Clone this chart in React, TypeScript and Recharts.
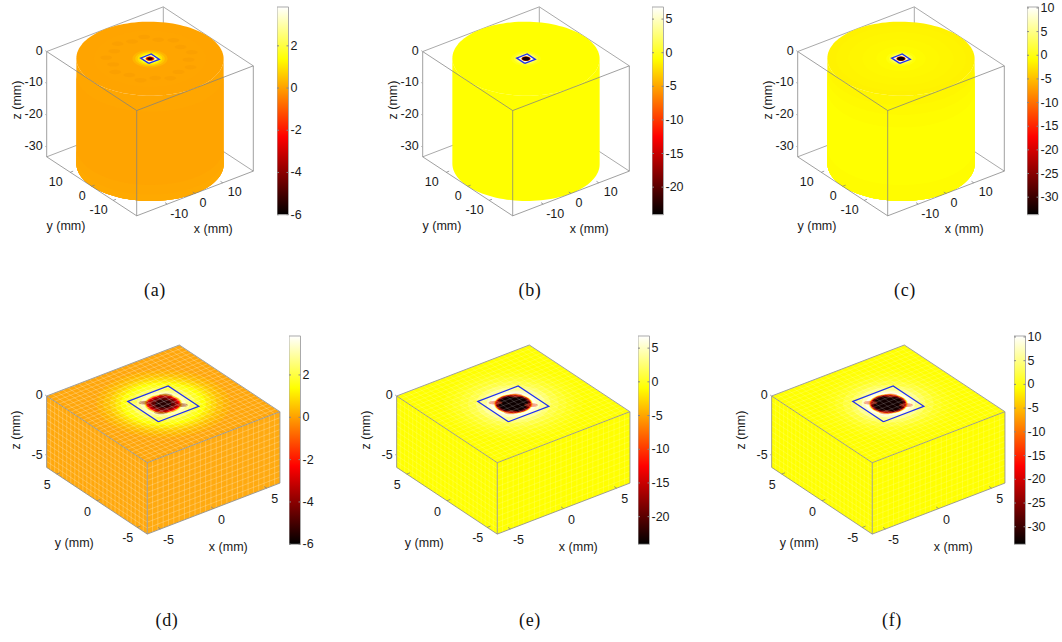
import { Area, ComposedChart, Line, ReferenceArea, Scatter, XAxis, YAxis } from "recharts";

// colour scale ranges and ticks
const RANGE_A = [-6, 3.84];
const RANGE_B = [-24.1, 6.8];
const RANGE_C = [-33.7, 10.2];
const TICKS_A = [-6, -4, -2, 0, 2];
const TICKS_B = [-20, -15, -10, -5, 0, 5];
const TICKS_C = [-30, -25, -20, -15, -10, -5, 0, 5, 10];

// [radius mm, value] rings of the surface field around the pad, outermost first
const RINGS_A = [[5, 0.3], [4.2, 0.6], [3.5, 1], [2.9, 1.5], [2.4, 2.2], [1.9, 3.2], [1.55, 3.4], [1.35, 1.5], [1.22, -1], [1.05, -3.2], [0.7, -5.5]];
const RINGS_B = [[4.2, -0.4], [3.4, 0.6], [2.8, 2], [2.3, 3.6], [1.9, 5.5], [1.5, 6.5], [1.35, -5], [1.2, -18], [1, -23]];
const RINGS_C = [[4.2, -0.4], [3.4, 1], [2.8, 3], [2.3, 5.5], [1.9, 8], [1.5, 10], [1.35, -8], [1.2, -25], [1, -33]];
const RINGS_D = [[5, 0.25], [4.5, 0.45], [4, 0.75], [3.6, 1.05], [3.2, 1.4], [2.8, 1.75], [2.4, 2.2], [2, 2.7], [1.7, 3.2], [1.5, 3.1], [1.42, 2], [1.36, 0.6], [1.3, -1], [1.22, -2.4], [1.1, -3.6], [0.9, -4.6], [0.6, -5.4]];
const RINGS_E = [[5.2, -0.6], [4.6, -0.2], [4, 0.4], [3.4, 1.2], [2.8, 2.4], [2.4, 3.6], [2, 5], [1.7, 6.2], [1.48, 4], [1.42, -3], [1.36, -13], [1.28, -20], [1.1, -23.5]];
const RINGS_F = [[5.2, -0.5], [4.6, -0.1], [4, 0.6], [3.4, 1.8], [2.8, 3.4], [2.4, 5.2], [2, 7.5], [1.7, 9.6], [1.48, 5], [1.42, -4], [1.36, -18], [1.28, -28], [1.1, -32.5]];

// [from z, colour] bands on the cylinder wall, each one running down to the base
const BANDS_A = [[0, "#ffa600"], [-5, "#ffa400"], [-28, "#ffa700"], [-31, "#ffa900"]];
const BANDS_B = [[0, "#ffff00"]];
const BANDS_C = [[0, "#fff600"], [-3, "#fff900"], [-6, "#fffc00"], [-10, "#ffff00"], [-28, "#fffc00"]];

// [radius mm, colour] discs of the cylinder lid
const LID_A = [[21, "#ffa400"], [16, "#ffa500"]];
const LID_B = [[21, "#ffff00"]];
const LID_C = [[21, "#fff200"], [18.5, "#fff400"], [15, "#fff600"], [11, "#fff800"], [7, "#fffb00"]];

// darker spots on the lid of (a)
const SPOT_ANGLES = [0, 20, 40, 60, 80, 100, 120, 140, 160, 180, 200, 220, 240, 260, 280, 300, 320, 340];
const SPOT_RADIUS = [11, 12.5];
// red tips of the field where it runs into the pad corners, (x, y) in mm
const WINGS = [[-0.95, 0.95], [0.95, -0.95], [0.9, 0.9], [-0.9, -0.9]];
const MESH_CELLS = [25, 12];

const PAD = 1.9;
const TOP = { R: 21, zMin: -33, hx: [58.3, -22.35], hy: [-45, -29.5], zs: 3.19, cx: 150, cy: 58.7, ticks: [-10, 0, 10], zTicks: [0, -10, -20, -30], wide: 5, xy: [8, 9.5], yl: [66, 225.7], xl: [213.3, 229], zl: [17, 100] };
const BOT = { R: 6.25, zMin: -6, hx: [66.35, -25.5], hy: [-50.3, -33.35], zs: 11.9, cx: 163.3, cy: 403.85, ticks: [-5, 0, 5], zTicks: [0, -5], wide: 0, xy: [8, 11], yl: [74.3, 542.7], xl: [228.3, 546.7], zl: [16, 430] };

const PANELS = [
  { name: "(a)", g: TOP, dx: 0, range: RANGE_A, ticks: TICKS_A, rings: RINGS_A, bands: BANDS_A, lid: LID_A, bar: 277, cap: [155, 290] },
  { name: "(b)", g: TOP, dx: 376, range: RANGE_B, ticks: TICKS_B, rings: RINGS_B, bands: BANDS_B, lid: LID_B, bar: 651.7, cap: [530, 290] },
  { name: "(c)", g: TOP, dx: 751, range: RANGE_C, ticks: TICKS_C, rings: RINGS_C, bands: BANDS_C, lid: LID_C, bar: 1027.3, cap: [905, 290] },
  { name: "(d)", g: BOT, dx: 0, range: RANGE_A, ticks: TICKS_A, rings: RINGS_D, face: ["#ffa60a", "#ffa80c", "#ffaa10"], mesh: 0.3, wing: "#8a1000", bar: 289.3, cap: [167, 620] },
  { name: "(e)", g: BOT, dx: 349.7, range: RANGE_B, ticks: TICKS_B, rings: RINGS_E, face: ["#ffff00", "#ffff00", "#ffff00"], mesh: 0.2, wing: "#e83010", bar: 638.3, cap: [530, 620] },
  { name: "(f)", g: BOT, dx: 725, range: RANGE_C, ticks: TICKS_C, rings: RINGS_F, face: ["#ffff00", "#ffff00", "#ffff00"], mesh: 0.2, wing: "#e83010", bar: 1014.3, cap: [892, 620] },
];

const FONT = "'Liberation Sans', Arial, sans-serif";
const W = 300;
const H = 642;

// same colour map as the bars: black - red - yellow - white
function hot(v: number, range: number[]) {
  const f = Math.max(0, Math.min(1, (v - range[0]) / (range[1] - range[0])));
  const r = Math.round(255 * Math.min(1, f / 0.375));
  const g = Math.round(255 * Math.max(0, Math.min(1, (f - 0.375) / 0.375)));
  const b = Math.round(255 * Math.max(0, (f - 0.75) / 0.25));
  return `rgb(${r},${g},${b})`;
}

function project(g: any, X: number, Y: number, Z: number) {
  return {
    x: g.cx + (X / g.R) * g.hx[0] + (Y / g.R) * g.hy[0],
    y: g.cy + (X / g.R) * g.hx[1] + (Y / g.R) * g.hy[1] - Z * g.zs,
  };
}

// projected circle, written as lower and upper edge per screen x
function circleEdge(g: any, r: number, u: number) {
  const ax = g.hx[0] / g.R, bx = g.hy[0] / g.R, ay = g.hx[1] / g.R, by = g.hy[1] / g.R;
  const su = Math.hypot(ax, bx);
  const mid = (u * (ax * ay + bx * by)) / (su * su);
  const s = Math.sqrt(Math.max(0, r * r - (u * u) / (su * su)));
  const k = (by * ax - ay * bx) / su;
  return [mid - Math.abs(s * k), mid + Math.abs(s * k)];
}

function circleXs(g: any, r: number) {
  const su = Math.hypot(g.hx[0], g.hy[0]) / g.R;
  return Array.from({ length: 61 }, (_, i) => -r * su * Math.cos((i * Math.PI) / 60));
}

function disc(g: any, r: number, z: number) {
  return circleXs(g, r).map((u) => {
    const e = circleEdge(g, r, u);
    const c = g.cy - z * g.zs;
    return { x: g.cx + u, range: [c + e[0], c + e[1]] };
  });
}

function wall(g: any, z1: number, z2: number) {
  return circleXs(g, g.R).map((u) => {
    const e = circleEdge(g, g.R, u)[1];
    return { x: g.cx + u, range: [g.cy - z1 * g.zs + e, g.cy - z2 * g.zs + e] };
  });
}

function segment(g: any, a: number[], b: number[]) {
  return [project(g, a[0], a[1], a[2]), project(g, b[0], b[1], b[2])];
}

function joinLines(lines: any[][]) {
  const out: any[] = [];
  lines.forEach((l) => {
    out.push(...l);
    out.push({ x: l[l.length - 1].x, y: null });
  });
  return out;
}

function quadRows(p: any[], q: any[]) {
  // p, q = top and bottom polyline in screen space, same x range
  const xs = Array.from(new Set([...p, ...q].map((d) => d.x))).sort((a, b) => a - b);
  const at = (l: any[], x: number) => {
    for (let i = 0; i < l.length - 1; i++) {
      if (x >= l[i].x && x <= l[i + 1].x) {
        const w = l[i + 1].x === l[i].x ? 0 : (x - l[i].x) / (l[i + 1].x - l[i].x);
        return l[i].y + w * (l[i + 1].y - l[i].y);
      }
    }
    return l[0].y;
  };
  return xs.map((x) => ({ x, range: [at(p, x), at(q, x)] }));
}

const TextMark = (props: any) => {
  const { cx, cy, payload } = props;
  return (
    <text
      x={cx}
      y={cy}
      textAnchor={payload.anchor || "middle"}
      dominantBaseline="central"
      fontFamily={FONT}
      fontSize={12.5}
      fill="#1a1a1a"
      transform={payload.rotate ? `rotate(-90 ${cx} ${cy})` : undefined}
    >
      {payload.text}
    </text>
  );
};

const SpotMark = (props: any) => <ellipse cx={props.cx} cy={props.cy} rx={6} ry={2.2} fill="#f79c00" opacity={0.45} />;
const WingMark = (props: any) => <ellipse cx={props.cx} cy={props.cy} rx={7} ry={2} fill={props.payload.fill} opacity={0.45} />;

function Scene({ p }: { p: any }) {
  const g = p.g;
  const R = g.R;
  const Z = g.zMin;
  const isBlock = !!p.face;

  const c = (X: number, Y: number, ZZ: number) => project(g, X, Y, ZZ);
  const back = joinLines([
    segment(g, [-R, R, 0], [R, R, 0]),
    segment(g, [R, R, 0], [R, -R, 0]),
    segment(g, [R, R, 0], [R, R, Z]),
    segment(g, [-R, R, Z], [R, R, Z]),
    segment(g, [R, R, Z], [R, -R, Z]),
  ]);
  const front = joinLines([
    segment(g, [-R, -R, 0], [R, -R, 0]),
    segment(g, [-R, -R, 0], [-R, R, 0]),
    segment(g, [-R, -R, 0], [-R, -R, Z]),
    segment(g, [-R, R, 0], [-R, R, Z]),
    segment(g, [R, -R, 0], [R, -R, Z]),
    segment(g, [-R, -R, Z], [R, -R, Z]),
    segment(g, [-R, -R, Z], [-R, R, Z]),
    ...g.ticks.map((t: number) => segment(g, [t, -R, Z], [t, -R + R * 0.05, Z])),
    ...g.ticks.map((t: number) => segment(g, [-R, t, Z], [-R + R * 0.05, t, Z])),
  ]);
  const zTickLines = joinLines(g.zTicks.map((t: number) => segment(g, [-R, R, t], [-R, R + R * 0.03, t])));

  const pad = [c(-PAD, -PAD, 0), c(PAD, -PAD, 0), c(PAD, PAD, 0), c(-PAD, PAD, 0), c(-PAD, -PAD, 0)];

  const labels: any[] = [];
  g.ticks.forEach((t: number) => {
    const a = c(t, -R, Z);
    const b = c(-R, t, Z);
    const wide = String(t).length > 1 ? g.wide : 0;
    labels.push({ x: a.x + g.xy[0] + wide * 0.8, y: a.y + g.xy[1], text: String(t) });
    labels.push({ x: b.x - g.xy[0] - 1.5 - wide, y: b.y + g.xy[1], text: String(t) });
  });
  g.zTicks.forEach((t: number) => {
    const a = c(-R, R, t);
    labels.push({ x: a.x - 4, y: a.y - 1, text: String(t), anchor: "end" });
  });
  labels.push({ x: g.yl[0], y: g.yl[1], text: "y (mm)" });
  labels.push({ x: g.xl[0], y: g.xl[1], text: "x (mm)" });
  labels.push({ x: g.zl[0], y: g.zl[1], text: "z (mm)", rotate: true });

  const step = (2 * R) / MESH_CELLS[0];
  const zStep = -Z / MESH_CELLS[1];
  const meshPos = Array.from({ length: MESH_CELLS[0] + 1 }, (_, i) => -R + i * step);
  const meshZ = Array.from({ length: MESH_CELLS[1] + 1 }, (_, i) => -i * zStep);
  const mesh = isBlock
    ? joinLines([
        ...meshPos.map((t) => segment(g, [t, -R, 0], [t, R, 0])),
        ...meshPos.map((t) => segment(g, [-R, t, 0], [R, t, 0])),
        ...meshPos.map((t) => segment(g, [t, -R, 0], [t, -R, Z])),
        ...meshPos.map((t) => segment(g, [-R, t, 0], [-R, t, Z])),
        ...meshZ.map((z) => segment(g, [-R, -R, z], [R, -R, z])),
        ...meshZ.map((z) => segment(g, [-R, -R, z], [-R, R, z])),
      ])
    : [];

  const spots =
    p.name === "(a)"
      ? SPOT_ANGLES.map((a, i) => {
          const r = SPOT_RADIUS[i % 2];
          return c(r * Math.cos((a * Math.PI) / 180), r * Math.sin((a * Math.PI) / 180), 0);
        })
      : [];
  const wings = isBlock ? WINGS.map((w) => ({ ...c(w[0], w[1], 0), fill: p.wing })) : [];

  const topUpper = [c(-R, R, 0), c(R, R, 0), c(R, -R, 0)];
  const topLower = [c(-R, R, 0), c(-R, -R, 0), c(R, -R, 0)];
  const leftUpper = [c(-R, R, 0), c(-R, -R, 0)];
  const leftLower = [c(-R, R, Z), c(-R, -R, Z)];
  const rightUpper = [c(-R, -R, 0), c(R, -R, 0)];
  const rightLower = [c(-R, -R, Z), c(R, -R, Z)];

  const edge = { type: "linear" as const, dot: false, activeDot: false, isAnimationActive: false, connectNulls: false };
  const fill = { type: "linear" as const, dataKey: "range", stroke: "none", dot: false, activeDot: false, isAnimationActive: false, fillOpacity: 1 };

  return (
    <ComposedChart width={W} height={H} margin={{ top: 0, right: 0, bottom: 0, left: 0 }}>
      <XAxis hide type="number" dataKey="x" domain={[0, W]} allowDataOverflow />
      <YAxis hide type="number" dataKey="y" domain={[0, H]} reversed allowDataOverflow width={0} />

      {!isBlock && <Line {...edge} data={back} dataKey="y" stroke="#aaaaaa" strokeWidth={1} zIndex={50} />}

      {isBlock && <Area {...fill} data={quadRows(leftUpper, leftLower)} fill={p.face[1]} />}
      {isBlock && <Area {...fill} data={quadRows(rightUpper, rightLower)} fill={p.face[2]} />}
      {isBlock && <Area {...fill} data={quadRows(topUpper, topLower)} fill={p.face[0]} />}

      {!isBlock &&
        p.bands.map((b: any, i: number) => <Area key={"b" + i} {...fill} data={wall(g, b[0], Z)} fill={b[1]} />)}
      {!isBlock &&
        p.lid.map((l: any, i: number) => <Area key={"l" + i} {...fill} data={disc(g, l[0], 0)} fill={l[1]} />)}

      {p.rings.map((ring: number[], i: number) => (
        <Area key={"r" + i} {...fill} data={disc(g, ring[0], 0)} fill={hot(ring[1], p.range)} />
      ))}

      {isBlock && <Line {...edge} data={mesh} dataKey="y" stroke="#ffffff" strokeOpacity={p.mesh} strokeWidth={0.8} />}
      <Line {...edge} data={front} dataKey="y" stroke="#808080" strokeOpacity={0.75} strokeWidth={1} />
      {isBlock && <Line {...edge} data={joinLines([segment(g, [-R, R, 0], [R, R, 0]), segment(g, [R, R, 0], [R, -R, 0])])} dataKey="y" stroke="#a0a0a0" strokeWidth={1} />}
      <Line {...edge} data={zTickLines} dataKey="y" stroke="#aaaaaa" strokeWidth={1} />
      <Line {...edge} data={pad} dataKey="y" stroke="#2030f0" strokeWidth={1.3} />

      {spots.length > 0 && <Scatter data={spots} shape={SpotMark} isAnimationActive={false} zIndex={110} />}
      {wings.length > 0 && <Scatter data={wings} shape={WingMark} isAnimationActive={false} zIndex={110} />}
      <Scatter data={labels} shape={TextMark} isAnimationActive={false} />
    </ComposedChart>
  );
}

function BarTick(props: any) {
  const { x, y, payload } = props;
  return (
    <g>
      <line x1={x - 2} x2={x} y1={y} y2={y} stroke="#888888" />
      <line x1={x - 11.5} x2={x - 9.5} y1={y} y2={y} stroke="#888888" />
      <text x={x + 2} y={y} dominantBaseline="central" fontFamily={FONT} fontSize={12.5} fill="#1a1a1a">
        {payload.value}
      </text>
    </g>
  );
}

function ColorBar({ p, id }: { p: any; id: string }) {
  const rows = [
    { x: 0, range: p.range },
    { x: 1, range: p.range },
  ];
  const h = p.g === TOP ? 207.7 : 208.3;
  return (
    <ComposedChart width={41.5} height={h + 16} margin={{ top: 8, right: 0, bottom: 8, left: 0 }}>
      <defs>
        <linearGradient id={id} x1="0" y1="0" x2="0" y2="1">
          <stop offset="0" stopColor="#ffffff" />
          <stop offset="0.25" stopColor="#ffff00" />
          <stop offset="0.625" stopColor="#ff0000" />
          <stop offset="1" stopColor="#000000" />
        </linearGradient>
      </defs>
      <XAxis hide type="number" dataKey="x" domain={[0, 1]} />
      <YAxis
        orientation="right"
        type="number"
        domain={p.range}
        ticks={p.ticks}
        interval={0}
        width={30}
        axisLine={false}
        tickLine={false}
        tickSize={0}
        tickMargin={0}
        tick={<BarTick />}
        allowDataOverflow
      />
      <Area type="linear" data={rows} dataKey="range" stroke="none" fill={`url(#${id})`} fillOpacity={1} dot={false} activeDot={false} isAnimationActive={false} />
      <ReferenceArea x1={0} x2={1} y1={p.range[0]} y2={p.range[1]} fill="none" stroke="#aaaaaa" />
    </ComposedChart>
  );
}

export default function App() {
  return (
    <div style={{ position: "absolute", left: 0, top: 0, width: 1062, height: 642, overflow: "hidden", background: "#fff" }}>
      {PANELS.map((p, i) => (
        <div key={p.name}>
          <div style={{ position: "absolute", left: p.dx, top: 0, width: W, height: H }}>
            <Scene p={p} />
          </div>
          <div style={{ position: "absolute", left: p.bar, top: (p.g === TOP ? 7.3 : 336) - 8 }}>
            <ColorBar p={p} id={"hot" + i} />
          </div>
          <div
            style={{
              position: "absolute",
              left: p.cap[0] - 30,
              top: p.cap[1] - 12,
              width: 60,
              textAlign: "center",
              fontFamily: "'Liberation Serif', serif",
              fontSize: 18,
              letterSpacing: 0.6,
              lineHeight: "24px",
              color: "#111",
            }}
          >
            {p.name}
          </div>
        </div>
      ))}
    </div>
  );
}
